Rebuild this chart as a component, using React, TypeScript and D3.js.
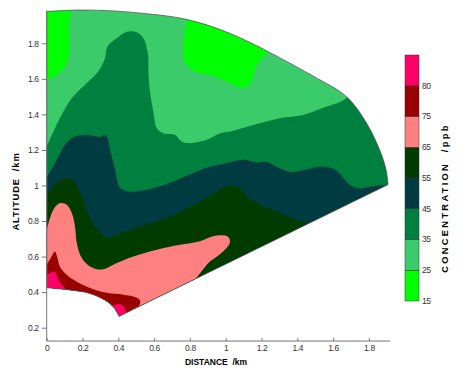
import { useEffect, useRef } from "react";
import * as d3 from "d3";

type Pt = [number, number];

// axis ticks (km)
const xTicks = [0, 0.2, 0.4, 0.6, 0.8, 1, 1.2, 1.4, 1.6, 1.8];
const yTicks = [0.2, 0.4, 0.6, 0.8, 1, 1.2, 1.4, 1.6, 1.8];

// concentration classes (ppb), lowest first
const levels = [15, 25, 35, 45, 55, 65, 75, 80];
const levelColors = [
  "#00ff00",
  "#3ccb6a",
  "#00803f",
  "#003b42",
  "#003c00",
  "#ff8080",
  "#990000",
  "#ff0066",
];

// scan sector outline (distance km, altitude km)
const sectorArc: Pt[] = [
  [0, 1.979], [0.169, 1.987], [0.337, 1.984], [0.521, 1.97], [0.745, 1.942],
  [0.929, 1.892], [1.119, 1.813], [1.303, 1.718], [1.488, 1.616], [1.677, 1.498],
  [1.789, 1.347], [1.862, 1.195], [1.896, 1.088], [1.907, 1.005],
];
const sectorBase: Pt = [0, 0.425];
const sectorApex: Pt = [0.404, 0.264];
const sectorLowerLeft: Pt[] = [
  [0.404, 0.264], [0.376, 0.313], [0.337, 0.348], [0.242, 0.392], [0.147, 0.41], [0, 0.425],
];

// contour boundaries: [class index, boundary (smooth), closing points outside the sector]
const lowPatchA: Pt[] = [
  [0.141, 2.015], [0.125, 1.903], [0.125, 1.734], [0.097, 1.661], [0.041, 1.611], [0, 1.594],
];
const lowPatchAOut: Pt[] = [[-0.05, 1.594], [-0.05, 2.05]];

const lowPatchB: Pt[] = [
  [0.784, 1.959], [0.773, 1.875], [0.763, 1.791], [0.773, 1.695], [0.812, 1.65],
  [0.929, 1.616], [1.024, 1.577], [1.08, 1.549], [1.136, 1.571], [1.158, 1.633],
  [1.186, 1.695], [1.258, 1.774], [1.331, 1.847],
];
const lowPatchBOut: Pt[] = [[1.3, 2.05], [0.784, 2.05]];

const iso35: Pt[] = [
  [0, 1.218], [0.074, 1.38], [0.14, 1.491], [0.223, 1.575], [0.288, 1.641],
  [0.326, 1.716], [0.335, 1.772], [0.354, 1.8], [0.391, 1.828], [0.447, 1.865],
  [0.503, 1.862], [0.54, 1.828], [0.559, 1.772], [0.568, 1.716], [0.568, 1.641],
  [0.577, 1.528], [0.596, 1.416], [0.615, 1.322], [0.651, 1.294], [0.717, 1.285],
  [0.754, 1.247], [0.801, 1.238], [0.894, 1.257], [0.968, 1.294], [1.024, 1.304],
  [1.154, 1.341], [1.303, 1.379], [1.434, 1.397], [1.564, 1.444], [1.639, 1.47],
  [1.683, 1.498], [1.722, 1.527],
];
const iso35Out: Pt[] = [[2.0, 1.527], [2.0, 0.1], [-0.05, 0.1], [-0.05, 1.218]];

const iso45: Pt[] = [
  [0, 1.043], [0.056, 1.145], [0.102, 1.229], [0.149, 1.271], [0.223, 1.285],
  [0.298, 1.274], [0.32, 1.282], [0.337, 1.274], [0.354, 1.201], [0.382, 1.088],
  [0.41, 0.987], [0.456, 0.966], [0.559, 0.976], [0.707, 1.023], [0.838, 1.079],
  [0.912, 1.105], [0.987, 1.122], [1.098, 1.145], [1.173, 1.13], [1.229, 1.133],
  [1.285, 1.105], [1.359, 1.077], [1.453, 1.092], [1.545, 1.107], [1.62, 1.085],
  [1.666, 1.032], [1.694, 1.004], [1.734, 0.985], [1.806, 0.993], [1.862, 1.001],
  [1.946, 0.998],
];
const iso45Out: Pt[] = [[2.0, 0.9], [2.0, 0.1], [-0.05, 0.1], [-0.05, 1.043]];

const iso55: Pt[] = [
  [0, 0.937], [0.037, 0.998], [0.074, 1.026], [0.112, 1.042], [0.149, 1.024],
  [0.186, 0.959], [0.223, 0.864], [0.26, 0.785], [0.298, 0.74], [0.335, 0.705],
  [0.41, 0.733], [0.521, 0.768], [0.67, 0.817], [0.773, 0.864], [0.873, 0.92],
  [0.957, 0.97], [1.024, 1.001], [1.08, 0.985], [1.117, 0.938], [1.192, 0.892],
  [1.303, 0.845], [1.397, 0.808], [1.471, 0.785],
];
const iso55Out: Pt[] = [[1.5, 0.5], [0.4, 0.1], [-0.05, 0.1], [-0.05, 0.937]];

const iso65: Pt[] = [
  [0, 0.751], [0.037, 0.864], [0.074, 0.901], [0.112, 0.892], [0.14, 0.845],
  [0.158, 0.77], [0.168, 0.677], [0.196, 0.592], [0.242, 0.545], [0.307, 0.527],
  [0.391, 0.564], [0.484, 0.601], [0.615, 0.639], [0.745, 0.667], [0.856, 0.687],
  [0.929, 0.715], [0.979, 0.72], [1.013, 0.712], [1.024, 0.684], [1.002, 0.645],
  [0.957, 0.605], [0.912, 0.572], [0.873, 0.527], [0.834, 0.476],
];
const iso65Out: Pt[] = [[0.8, 0.3], [-0.05, 0.2], [-0.05, 0.751]];

const iso75: Pt[] = [
  [0, 0.555], [0.018, 0.583], [0.046, 0.628], [0.058, 0.6], [0.074, 0.543],
  [0.112, 0.498], [0.168, 0.459], [0.242, 0.424], [0.335, 0.396], [0.428, 0.386],
  [0.484, 0.375], [0.521, 0.355], [0.516, 0.324], [0.477, 0.302], [0.449, 0.274],
];
const iso75Out: Pt[] = [[0.44, 0.15], [-0.05, 0.15], [-0.05, 0.555]];

const iso80A: Pt[] = [
  [0, 0.496], [0.018, 0.508], [0.046, 0.515], [0.065, 0.47], [0.093, 0.433], [0.119, 0.403],
];
const iso80AOut: Pt[] = [[0.13, 0.35], [-0.05, 0.3], [-0.05, 0.496]];

const iso80B: Pt[] = [
  [0.345, 0.335], [0.37, 0.325], [0.398, 0.333], [0.425, 0.325], [0.443, 0.29],
];
const iso80BOut: Pt[] = [[0.45, 0.2], [0.3, 0.2], [0.3, 0.335]];

const bands: [number, Pt[], Pt[]][] = [
  [0, lowPatchA, lowPatchAOut],
  [0, lowPatchB, lowPatchBOut],
  [2, iso35, iso35Out],
  [3, iso45, iso45Out],
  [4, iso55, iso55Out],
  [5, iso65, iso65Out],
  [6, iso75, iso75Out],
  [7, iso80A, iso80AOut],
  [7, iso80B, iso80BOut],
];

const font = "'Liberation Sans', Arial, sans-serif";

const App = () => {
  const svgRef = useRef<SVGSVGElement | null>(null);

  useEffect(() => {
    if (!svgRef.current) return;
    const svg = d3.select(svgRef.current);
    svg.selectAll("*").remove();

    const x = d3.scaleLinear().domain([0, 1.8]).range([46.7, 46.7 + 179 * 1.8]);
    const y = d3.scaleLinear().domain([0.2, 1.8]).range([327.7, 43.3]);

    const px = (p: Pt) => `${x(p[0])},${y(p[1])}`;
    const smooth = d3
      .line<Pt>()
      .x((p) => x(p[0]))
      .y((p) => y(p[1]))
      .curve(d3.curveCatmullRom.alpha(0.5));

    const sectorPath =
      "M" + px(sectorBase) +
      (smooth(sectorArc) || "").replace(/^M/, "L") +
      "L" + px(sectorApex) +
      (smooth(sectorLowerLeft) || "").replace(/^M/, "L") +
      "Z";

    svg.append("clipPath").attr("id", "sector").append("path").attr("d", sectorPath);

    const plot = svg.append("g").attr("clip-path", "url(#sector)");
    plot.append("path").attr("d", sectorPath).attr("fill", levelColors[1]);

    plot
      .selectAll("path.band")
      .data(bands)
      .enter()
      .append("path")
      .attr("class", "band")
      .attr("fill", (d) => levelColors[d[0]])
      .attr("d", (d) => (smooth(d[1]) || "") + d[2].map((p) => "L" + px(p)).join("") + "Z");

    svg
      .append("path")
      .attr("d", sectorPath)
      .attr("fill", "none")
      .attr("stroke", "#555")
      .attr("stroke-width", 0.8);

    // axes
    const axisColor = "#777";
    svg
      .append("line")
      .attr("x1", x(0)).attr("x2", x(0))
      .attr("y1", y(1.985)).attr("y2", y(0.125))
      .attr("stroke", axisColor);
    svg
      .append("line")
      .attr("x1", x(0)).attr("x2", x(1.92))
      .attr("y1", y(0.125)).attr("y2", y(0.125))
      .attr("stroke", axisColor);

    const yAxis = svg
      .append("g")
      .attr("transform", `translate(${x(0)},0)`)
      .call(
        d3.axisLeft(y).tickValues(yTicks).tickSize(5).tickPadding(3)
          .tickFormat((d) => String(d))
      );
    const xAxis = svg
      .append("g")
      .attr("transform", `translate(0,${y(0.125)})`)
      .call(
        d3.axisBottom(x).tickValues(xTicks).tickSize(-3).tickPadding(4)
          .tickFormat((d) => String(d))
      );
    [yAxis, xAxis].forEach((g) => {
      g.select(".domain").remove();
      g.selectAll("line").attr("stroke", axisColor);
      g.selectAll("text")
        .attr("fill", "#333")
        .style("font-size", "8.5px")
        .style("letter-spacing", "-0.4px")
        .style("font-family", font);
    });

    svg
      .append("text")
      .attr("x", 216)
      .attr("y", 365)
      .attr("text-anchor", "middle")
      .style("font-size", "8.5px")
      .style("font-weight", "bold")
      .style("font-family", font)
      .style("white-space", "pre")
      .text("DISTANCE  /km");

    svg
      .append("text")
      .attr("transform", "translate(18.5,191.5) rotate(-90)")
      .attr("text-anchor", "middle")
      .style("font-size", "9.3px")
      .style("font-weight", "bold")
      .style("letter-spacing", "0.9px")
      .style("font-family", font)
      .style("white-space", "pre")
      .text("ALTITUDE  /km");

    // legend
    const ly = d3.scaleLinear().domain([0, levels.length]).range([301, 55]);
    const legend = svg.append("g");
    legend
      .selectAll("rect")
      .data(levelColors)
      .enter()
      .append("rect")
      .attr("x", 405)
      .attr("width", 14)
      .attr("y", (_, i) => ly(i + 1))
      .attr("height", (_, i) => ly(i) - ly(i + 1))
      .attr("fill", (d) => d)
      .attr("stroke", "#333")
      .attr("stroke-width", 0.5);
    legend
      .selectAll("text")
      .data(levels)
      .enter()
      .append("text")
      .attr("x", 422)
      .attr("y", (_, i) => ly(i))
      .attr("dy", "0.35em")
      .attr("fill", "#333")
      .style("font-size", "8.5px")
      .style("letter-spacing", "-0.4px")
      .style("font-family", font)
      .text((d) => String(d));

    svg
      .append("text")
      .attr("transform", "translate(448.3,198) rotate(-90)")
      .attr("text-anchor", "middle")
      .style("font-size", "9.3px")
      .style("font-weight", "bold")
      .style("letter-spacing", "2.3px")
      .style("font-family", font)
      .style("white-space", "pre")
      .text("CONCENTRATION  /ppb");
  }, []);

  return (
    <svg
      ref={svgRef}
      width={467}
      height={371}
      style={{ position: "absolute", left: 0, top: 0, background: "#fff" }}
    ></svg>
  );
};

export default App;
